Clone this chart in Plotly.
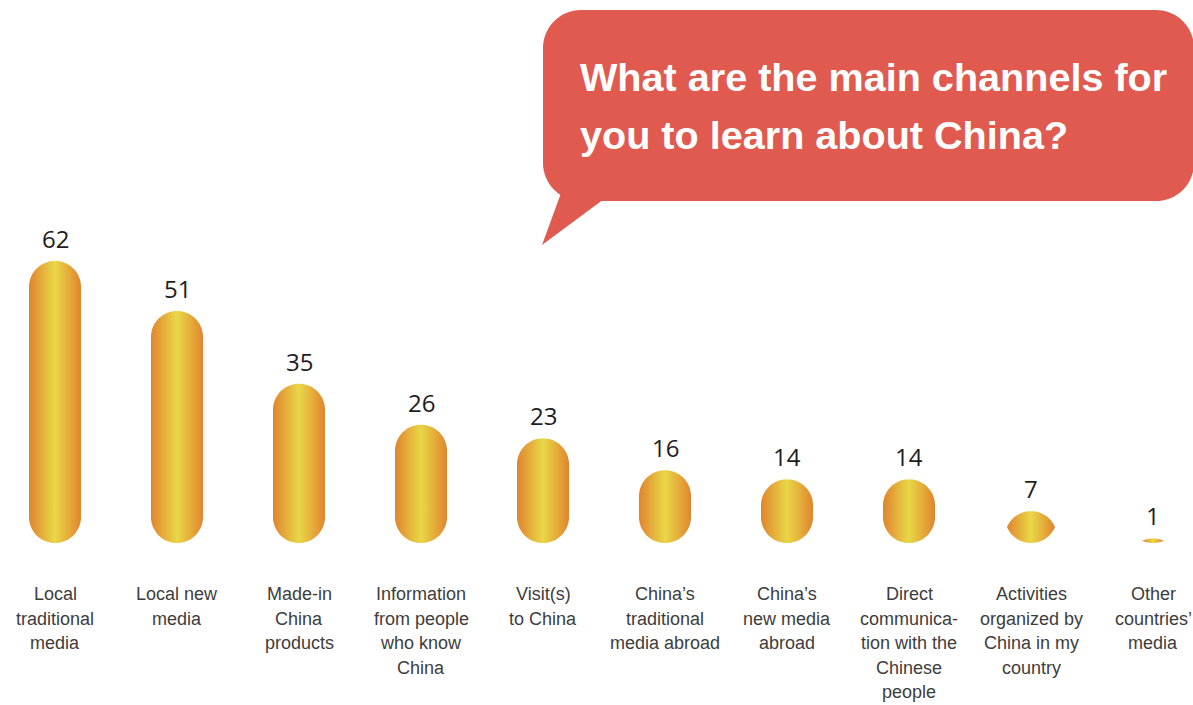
import math
import plotly.graph_objects as go

# --- data -------------------------------------------------------------
categories = [
    "Local traditional media",
    "Local new media",
    "Made-in China products",
    "Information from people who know China",
    "Visit(s) to China",
    "China’s traditional media abroad",
    "China’s new media abroad",
    "Direct communication with the Chinese people",
    "Activities organized by China in my country",
    "Other countries’ media",
]
values = [62, 51, 35, 26, 23, 16, 14, 14, 7, 1]
tick_lines = [
    ["Local", "traditional", "media"],
    ["Local new", "media"],
    ["Made-in", "China", "products"],
    ["Information", "from people", "who know", "China"],
    ["Visit(s)", "to China"],
    ["China’s", "traditional", "media abroad"],
    ["China’s", "new media", "abroad"],
    ["Direct", "communica-", "tion with the", "Chinese", "people"],
    ["Activities", "organized by", "China in my", "country"],
    ["Other", "countries’", "media"],
]
title_lines = ["What are the main channels for", "you to learn about China?"]

# --- geometry / style -------------------------------------------------
W, H = 1193, 705
STEP_PX = 122          # horizontal pixels between category centres
FIRST_PX = 55          # pixel x of first category centre
UNIT_PX = 4.55         # vertical pixels per value unit
BASE_PX = 543          # pixel y of the bar baseline
BAR_R = 26             # half width of each pill in pixels

GRAD = [[0.0, "#E1842E"], [0.5, "#E9D847"], [1.0, "#E1842E"]]
BUBBLE = "#E05A4F"
NUM_COLOR = "#1F1C1D"
TICK_COLOR = "#3D3D3D"


def pill(i, v, n=40):
    """Outline of a rounded bar (lens-shaped when shorter than its width)."""
    h = v * UNIT_PX
    ct = h - BAR_R      # centre of the top cap (pixels above baseline)
    cb = BAR_R          # centre of the bottom cap
    t0 = 0.0 if ct >= cb else math.asin((cb - ct) / 2 / BAR_R)
    xs, ys = [], []
    for k in range(n + 1):
        t = t0 + (math.pi - 2 * t0) * k / n
        xs.append(i + BAR_R * math.cos(t) / STEP_PX)
        ys.append((ct + BAR_R * math.sin(t)) / UNIT_PX)
    for k in range(n + 1):
        t = math.pi + t0 + (math.pi - 2 * t0) * k / n
        xs.append(i + BAR_R * math.cos(t) / STEP_PX)
        ys.append((cb + BAR_R * math.sin(t)) / UNIT_PX)
    xs.append(xs[0])
    ys.append(ys[0])
    return xs, ys


def pp(x, y):
    return f"{x / W:.5f},{1 - y / H:.5f}"


def rounded_rect(x0, y0, x1, y1, r):
    k = 0.5523 * r
    return (
        f"M{pp(x0 + r, y0)} L{pp(x1 - r, y0)} "
        f"C{pp(x1 - r + k, y0)} {pp(x1, y0 + r - k)} {pp(x1, y0 + r)} "
        f"L{pp(x1, y1 - r)} "
        f"C{pp(x1, y1 - r + k)} {pp(x1 - r + k, y1)} {pp(x1 - r, y1)} "
        f"L{pp(x0 + r, y1)} "
        f"C{pp(x0 + r - k, y1)} {pp(x0, y1 - r + k)} {pp(x0, y1 - r)} "
        f"L{pp(x0, y0 + r)} "
        f"C{pp(x0, y0 + r - k)} {pp(x0 + r - k, y0)} {pp(x0 + r, y0)} Z"
    )


fig = go.Figure()

for i, v in enumerate(values):
    xs, ys = pill(i, v)
    fig.add_trace(go.Scatter(
        x=xs, y=ys, mode="none", fill="toself",
        fillgradient=dict(type="horizontal", colorscale=GRAD),
        name=categories[i], hoverinfo="skip", showlegend=False,
    ))

annotations = []
for i, v in enumerate(values):
    annotations.append(dict(
        x=i, y=v, xref="x", yref="y", text=str(v), showarrow=False,
        xanchor="center", yanchor="bottom", yshift=4,
        font=dict(family="Open Sans, Noto Sans, sans-serif", size=24, color=NUM_COLOR),
    ))

for i, lines in enumerate(tick_lines):
    for j, line in enumerate(lines):
        baseline = 601.5 + 24.4 * j
        annotations.append(dict(
            x=i, y=1 - (baseline + 4.8) / H, xref="x", yref="paper",
            text=line, showarrow=False, xanchor="center", yanchor="bottom",
            font=dict(family="Liberation Sans, Arial, sans-serif", size=18, color=TICK_COLOR),
        ))

for j, line in enumerate(title_lines):
    baseline = 92 + 58 * j
    annotations.append(dict(
        x=578 / W, y=1 - (baseline + 9.4) / H, xref="paper", yref="paper",
        text=line, showarrow=False, xanchor="left", yanchor="bottom",
        font=dict(family="Liberation Sans, Arial, sans-serif", size=39.6,
                  color="white", weight="bold"),
    ))

shapes = [
    dict(type="path", xref="paper", yref="paper", layer="below",
         path=rounded_rect(543, 10, 1194, 201, 38),
         fillcolor=BUBBLE, line=dict(width=0)),
    dict(type="path", xref="paper", yref="paper", layer="below",
         path=f"M{pp(564, 185)} L{pp(542, 245)} L{pp(602, 200.5)} L{pp(623, 185)} Z",
         fillcolor=BUBBLE, line=dict(width=0)),
]

fig.update_layout(
    width=W, height=H,
    margin=dict(l=0, r=0, t=0, b=0),
    paper_bgcolor="white", plot_bgcolor="white",
    xaxis=dict(range=[-FIRST_PX / STEP_PX, (W - FIRST_PX) / STEP_PX],
               visible=False, fixedrange=True),
    yaxis=dict(range=[-(H - BASE_PX) / UNIT_PX, BASE_PX / UNIT_PX],
               visible=False, fixedrange=True),
    annotations=annotations,
    shapes=shapes,
    showlegend=False,
)

fig.write_html("out.html")
